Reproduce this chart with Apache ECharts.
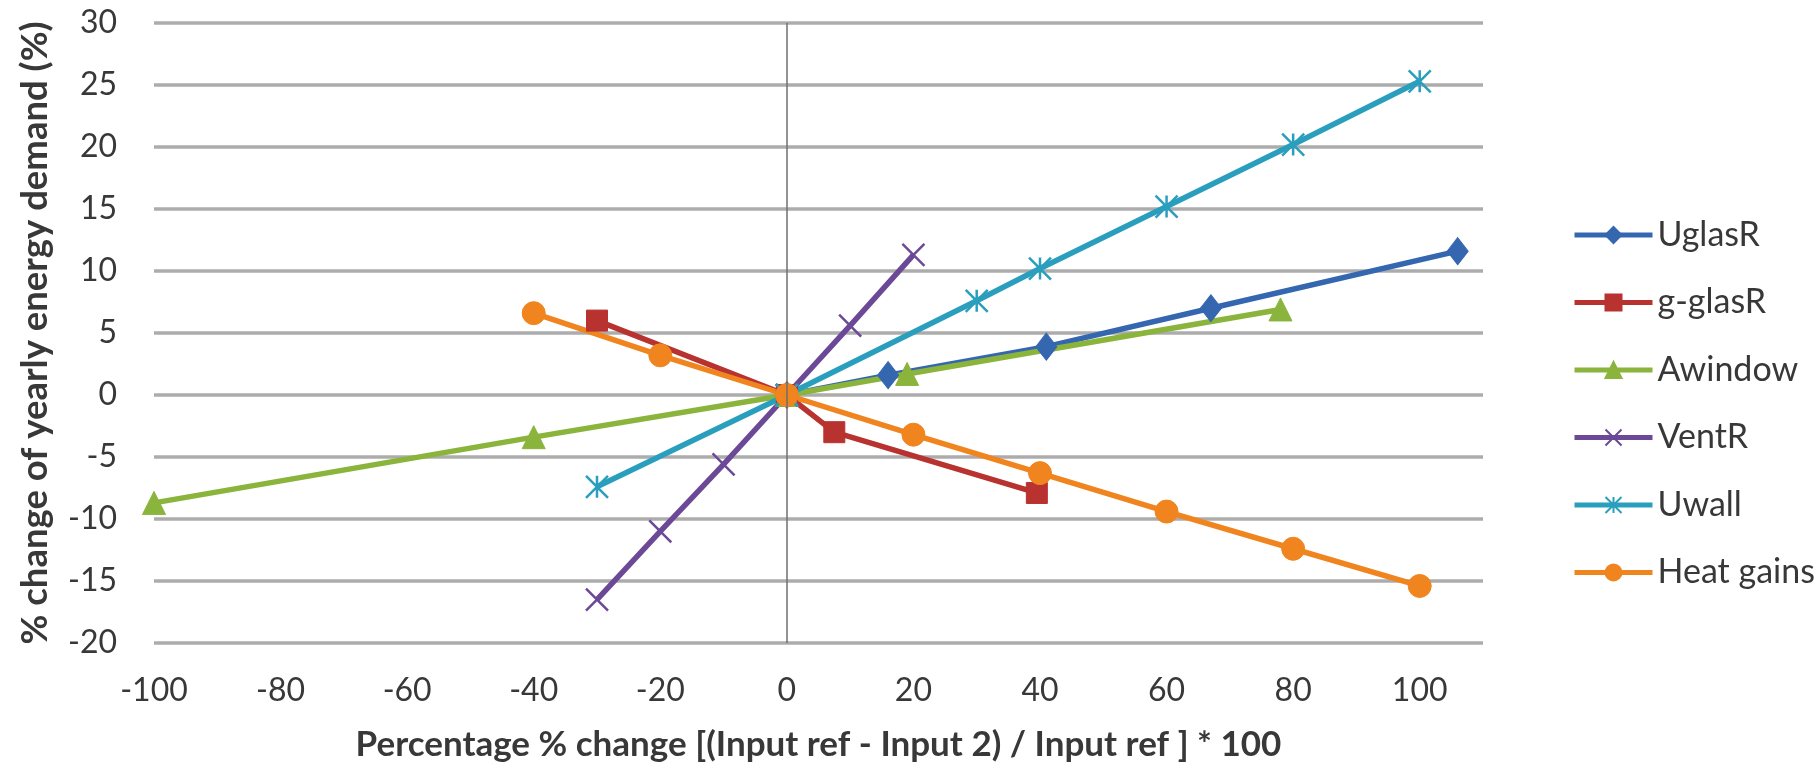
<!DOCTYPE html>
<html>
<head>
<meta charset="utf-8">
<title>Sensitivity of yearly energy demand</title>
<script src="https://cdn.jsdelivr.net/npm/echarts@6/dist/echarts.min.js"></script>
<style>
  html, body { margin: 0; padding: 0; background: #ffffff; }
  #chart { width: 1819px; height: 769px; }
</style>
</head>
<body>
<div id="chart"></div>
<script>
// Each series: [input change %, change of yearly energy demand %]
const uglasR    = [[0, 0], [16, 1.6], [41, 3.9], [67, 7.0], [106, 11.6]];
const gGlasR    = [[-30, 6.0], [0, 0], [7.5, -3.0], [39.5, -7.9]];
const aWindow   = [[-100, -8.7], [-40, -3.4], [0, 0], [19, 1.7], [78, 6.9]];
const ventR     = [[-30, -16.5], [-20, -11.0], [-10, -5.6], [0, 0], [10, 5.6], [20, 11.3]];
const uWall     = [[-30, -7.4], [0, 0], [30, 7.6], [40, 10.2], [60, 15.2], [80, 20.2], [100, 25.3]];
const heatGains = [[-40, 6.6], [-20, 3.2], [0, 0], [20, -3.2], [40, -6.3], [60, -9.4], [80, -12.4], [100, -15.4]];

const seriesNames = ['UglasR', 'g-glasR', 'Awindow', 'VentR', 'Uwall', 'Heat gains'];

const xTitle = 'Percentage % change [(Input ref - Input 2) / Input ref ] * 100';
const yTitle = '% change of yearly energy demand (%)';

const FONT = 'Lato, "Open Sans", sans-serif';
const TEXT = '#383838';

const X_MARK = 'path://M0 0 L10 10 M10 0 L0 10';
const STAR_MARK = 'path://M0 0 L10 10 M10 0 L0 10 M5 0 L5 10';

function lineSeries(name, data, color, symbol, size, strokeOnly) {
  return {
    name: name,
    type: 'line',
    data: data,
    symbol: symbol,
    symbolSize: size,
    showAllSymbol: true,
    lineStyle: { color: color, width: 5.5 },
    itemStyle: strokeOnly
      ? { color: 'rgba(0,0,0,0)', borderColor: color, borderWidth: 2.5 }
      : { color: color, borderColor: color, borderWidth: 1 },
    emphasis: { disabled: true },
    animation: false
  };
}

const chart = echarts.init(document.getElementById('chart'), null, { renderer: 'canvas' });

const series = [
  lineSeries(seriesNames[0], uglasR, '#3566b0', 'diamond', [21, 27], false),
  lineSeries(seriesNames[1], gGlasR, '#b8322f', 'rect', 21, false),
  lineSeries(seriesNames[2], aWindow, '#8ab43c', 'triangle', 23, false),
  lineSeries(seriesNames[3], ventR, '#6b4997', X_MARK, 22, true),
  lineSeries(seriesNames[4], uWall, '#2a9fbd', STAR_MARK, 22, true),
  lineSeries(seriesNames[5], heatGains, '#f0851f', 'circle', 23, false)
];

// thin vertical axis line through x = 0
series[0].markLine = {
  silent: true,
  symbol: 'none',
  label: { show: false },
  lineStyle: { color: '#6f6f6f', width: 1.5, type: 'solid' },
  data: [{ xAxis: 0 }],
  animation: false
};

chart.setOption({
  backgroundColor: '#ffffff',
  animation: false,
  textStyle: { fontFamily: FONT },
  grid: { left: 154, right: 336, top: 23, bottom: 126 },
  xAxis: {
    type: 'value',
    min: -100,
    max: 110,
    interval: 20,
    name: xTitle,
    nameLocation: 'middle',
    nameGap: 84,
    nameTextStyle: { fontFamily: FONT, fontSize: 35, fontWeight: 'bold', color: TEXT },
    axisLine: { show: false },
    axisTick: { show: false },
    splitLine: { show: false },
    axisLabel: {
      showMaxLabel: false,
      fontFamily: FONT, fontSize: 32, color: TEXT, margin: 32
    }
  },
  yAxis: {
    type: 'value',
    min: -20,
    max: 30,
    interval: 5,
    name: yTitle,
    nameLocation: 'middle',
    nameGap: 100,
    nameRotate: 90,
    nameTextStyle: { fontFamily: FONT, fontSize: 36.5, fontWeight: 'bold', color: TEXT },
    axisLine: { show: false },
    axisTick: { show: false },
    splitLine: { show: true, lineStyle: { color: '#acacac', width: 3.5 } },
    axisLabel: { fontFamily: FONT, fontSize: 32, color: TEXT, margin: 37 }
  },
  legend: {
    orient: 'vertical',
    left: 1567,
    top: 213,
    itemWidth: 78,
    itemHeight: 20,
    itemGap: 33.5,
    selectedMode: false,
    lineStyle: { width: 5 },
    textStyle: { fontFamily: FONT, fontSize: 34, color: TEXT },
    data: seriesNames
  },
  series: series
});
</script>
</body>
</html>
